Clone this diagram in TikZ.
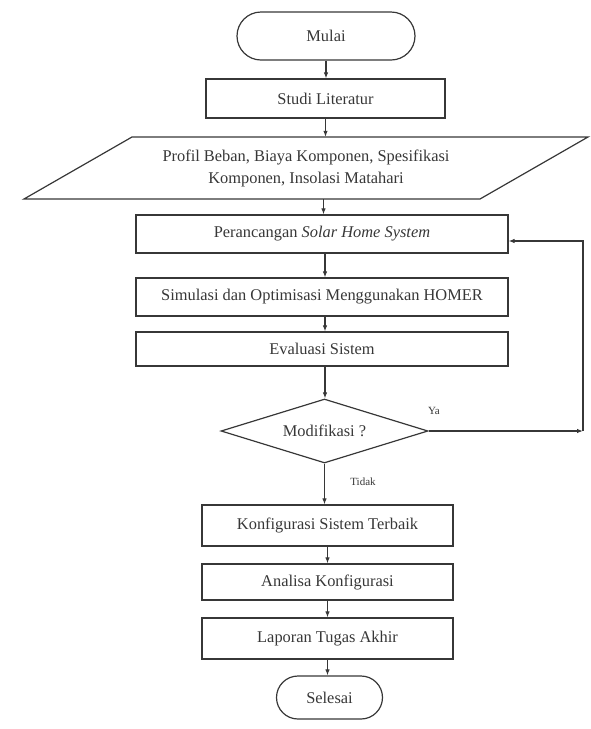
\documentclass[tikz,border=0pt]{standalone}
\usepackage{fontspec}
\setmainfont{Liberation Serif}
\usetikzlibrary{shapes.geometric,arrows.meta}
\definecolor{ink}{RGB}{55,55,55}
\begin{document}
\begin{tikzpicture}[x=1pt,y=-1pt,
  every node/.style={font=\fontsize{16.4}{22}\selectfont, text=ink},
  box/.style={draw=ink, line width=1.2pt, rectangle, inner sep=0pt},
  arr/.style={draw=ink, line width=1.1pt, -{Latex[length=6pt,width=4.5pt]}},
  line/.style={draw=ink, line width=1.2pt},
  small/.style={font=\fontsize{11}{13}\selectfont}]
\useasboundingbox (0,0) rectangle (590,729);

\node[box, rounded corners=24pt, minimum width=178pt, minimum height=48pt] (mulai) at (326,36) {Mulai};
\node[box, minimum width=239pt, minimum height=39pt] (studi) at (325.5,98.5) {Studi Literatur};

\draw[line] (132,137) -- (588,137) -- (480,199) -- (24,199) -- cycle;
\node[align=center, inner sep=0pt, minimum width=300pt, minimum height=62pt] (data) at (306,168)
  {Profil Beban, Biaya Komponen, Spesifikasi\\Komponen, Insolasi Matahari};

\node[box, minimum width=372pt, minimum height=38pt] (per) at (322,234) {Perancangan \textit{Solar Home System}};
\node[box, minimum width=372pt, minimum height=38pt] (sim) at (322,297) {Simulasi dan Optimisasi Menggunakan HOMER};
\node[box, minimum width=372pt, minimum height=34pt] (eva) at (322,349) {Evaluasi Sistem};

\node[draw=ink, line width=1.2pt, diamond, aspect=3.23, minimum width=207pt, minimum height=64pt, inner sep=0pt] (dec) at (324.5,431) {Modifikasi ?};

\node[box, minimum width=251pt, minimum height=41pt] (konf) at (327.5,525.5) {Konfigurasi Sistem Terbaik};
\node[box, minimum width=251pt, minimum height=36pt] (ana) at (327.5,582) {Analisa Konfigurasi};
\node[box, minimum width=251pt, minimum height=41pt] (lap) at (327.5,638.5) {Laporan Tugas Akhir};
\node[box, rounded corners=21.5pt, minimum width=106pt, minimum height=43pt] (sel) at (329.5,697.5) {Selesai};

\node[small] (ya) at (434,411) {Ya};
\node[small] (tidak) at (363,482) {Tidak};

\coordinate (rc) at (583,431);
\coordinate (rt) at (583,241);

\draw[arr] (mulai.south) -- (mulai.south |- studi.north);
\draw[arr] (studi.south) -- (studi.south |- data.north);
\draw[arr] ([xshift=-2pt]studi.south |- data.south) -- ([xshift=-2pt]studi.south |- per.north);
\draw[arr] ([xshift=3pt]per.south) -- ([xshift=3pt]per.south |- sim.north);
\draw[arr] ([xshift=3pt]sim.south) -- ([xshift=3pt]sim.south |- eva.north);
\draw[arr] ([xshift=3pt]eva.south) -- ([xshift=3pt]eva.south |- dec.north);
\draw[arr] (dec.south) -- (dec.south |- konf.north);
\draw[arr] (konf.south) -- (konf.south |- ana.north);
\draw[arr] (ana.south) -- (ana.south |- lap.north);
\draw[arr] (lap.south) -- (lap.south |- sel.north);
\draw[arr] (dec.east) -- (rc);
\draw[arr] (rc) -- (rt) -- (per.east |- rt);
\end{tikzpicture}
\end{document}
